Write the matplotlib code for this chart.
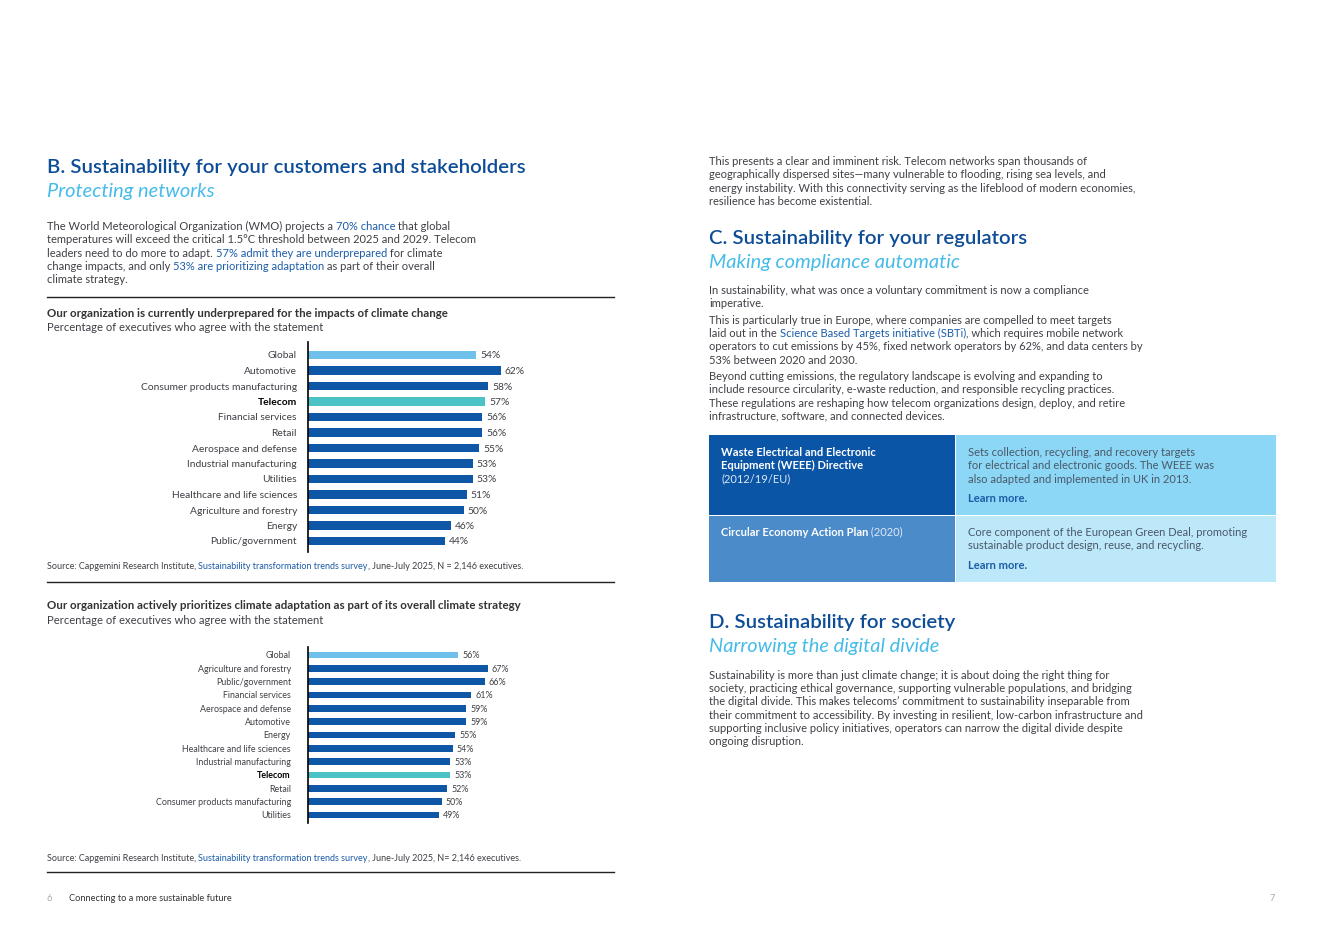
import matplotlib
matplotlib.use("Agg")
import matplotlib.pyplot as plt
from matplotlib.patches import Rectangle

W, H = 1323, 936
plt.rcParams['font.family'] = ['Lato', 'DejaVu Sans']

DARK = '#0E57A6'
LIGHT = '#6FC0EA'
TEAL = '#4BC3C6'
HEAD = '#0D4C96'
SUB = '#45BBE9'
BODY = '#3F3F46'
LINK = '#1B5CA8'
FS = 8.0  # body text size

cats1 = ['Global', 'Automotive', 'Consumer products manufacturing', 'Telecom',
         'Financial services', 'Retail', 'Aerospace and defense',
         'Industrial manufacturing', 'Utilities', 'Healthcare and life sciences',
         'Agriculture and forestry', 'Energy', 'Public/government']
vals1 = [54, 62, 58, 57, 56, 56, 55, 53, 53, 51, 50, 46, 44]

cats2 = ['Global', 'Agriculture and forestry', 'Public/government', 'Financial services',
         'Aerospace and defense', 'Automotive', 'Energy', 'Healthcare and life sciences',
         'Industrial manufacturing', 'Telecom', 'Retail',
         'Consumer products manufacturing', 'Utilities']
vals2 = [56, 67, 66, 61, 59, 59, 55, 54, 53, 53, 52, 50, 49]

fig = plt.figure(figsize=(W / 100, H / 100), dpi=100)
renderer = fig.canvas.get_renderer()


def fx(x):
    return x / W


def fy(y):
    return 1 - y / H


def txt(x, y, s, size=FS, color=BODY, **kw):
    # y is the visual middle of the line; text sits on a baseline below it
    base = y + 0.33 * size * 100 / 72
    return fig.text(fx(x), fy(base), s, fontsize=size, color=color,
                    va='baseline', ha='left', **kw)


def rich(x, y, parts, size=FS):
    for s, c in parts:
        t = txt(x, y, s, size, c)
        x = t.get_window_extent(renderer).x1


def hline(y, x0=47, x1=614):
    fig.add_artist(plt.Line2D([fx(x0), fx(x1)], [fy(y), fy(y)], color='#222222', lw=1))


def box(x0, y0, x1, y1, color):
    fig.add_artist(Rectangle((fx(x0), fy(y1)), (x1 - x0) / W, (y1 - y0) / H,
                             transform=fig.transFigure, color=color, lw=0))


def bar_chart(cats, vals, first, last, top, bottom, ppp, size, pad, bh):
    n = len(cats)
    ax = fig.add_axes([fx(308), fy(bottom), ppp * 100 / W, (bottom - top) / H])
    step = (last - first) / (n - 1)
    colors = [LIGHT if c == 'Global' else TEAL if c == 'Telecom' else DARK for c in cats]
    ax.barh(range(n), vals, height=bh, color=colors)
    for i, v in enumerate(vals):
        ax.text(v + 4 / ppp, i, f'{v}%', va='center_baseline', fontsize=size, color=BODY)
    ax.set_xlim(0, 100)
    ax.set_ylim(n - 1 + (bottom - last) / step, -(first - top) / step)
    ax.set_xticks([])
    ax.set_yticks(range(n), cats)
    ax.tick_params(axis='y', length=0, pad=pad, labelsize=size, labelcolor=BODY)
    for lab in ax.get_yticklabels():
        if lab.get_text() == 'Telecom':
            lab.set_fontweight('bold')
            lab.set_color('black')
    for s in ['top', 'right', 'bottom']:
        ax.spines[s].set_visible(False)
    ax.spines['left'].set_color('black')
    ax.spines['left'].set_linewidth(1.2)
    ax.patch.set_alpha(0)


def heading(x, y, title, sub):
    txt(x, y, title, 14.7, HEAD, fontweight='semibold')
    txt(x, y + 24, sub, 14.4, SUB, style='italic')


# left page
heading(47, 166, 'B. Sustainability for your customers and stakeholders', 'Protecting networks')
rich(47, 226, [('The World Meteorological Organization (WMO) projects a ', BODY),
               ('70% chance', LINK), (' that global', BODY)])
txt(47, 239, 'temperatures will exceed the critical 1.5°C threshold between 2025 and 2029. Telecom')
rich(47, 253, [('leaders need to do more to adapt. ', BODY),
               ('57% admit they are underprepared', LINK), (' for climate', BODY)])
rich(47, 266, [('change impacts, and only ', BODY),
               ('53% are prioritizing adaptation', LINK), (' as part of their overall', BODY)])
txt(47, 279, 'climate strategy.')
hline(297)

txt(47, 313, 'Our organization is currently underprepared for the impacts of climate change', 8.3,
    '#333333', fontweight='bold')
txt(47, 327, 'Percentage of executives who agree with the statement', 8.1)
bar_chart(cats1, vals1, 355, 541, 342, 552, 3.11, 7.4, 8, 0.58)
rich(47, 566, [('Source: Capgemini Research Institute, ', BODY),
               ('Sustainability transformation trends survey', LINK),
               (', June-July 2025, N = 2,146 executives.', BODY)], 6.45)
hline(582)

txt(47, 605, 'Our organization actively prioritizes climate adaptation as part of its overall climate strategy',
    8.3, '#333333', fontweight='bold')
txt(47, 620, 'Percentage of executives who agree with the statement', 8.1)
bar_chart(cats2, vals2, 655, 815, 647, 823, 2.68, 6.4, 12.3, 0.52)
rich(47, 858, [('Source: Capgemini Research Institute, ', BODY),
               ('Sustainability transformation trends survey', LINK),
               (', June-July 2025, N= 2,146 executives.', BODY)], 6.45)
hline(872)

txt(47, 898, '6', 6.7, '#AAAAAA')
txt(69, 898, 'Connecting to a more sustainable future', 6.7, '#333333')

# right page
X = 709
for y, s in zip([161, 174, 188, 201], [
        'This presents a clear and imminent risk. Telecom networks span thousands of',
        'geographically dispersed sites\u2014many vulnerable to flooding, rising sea levels, and',
        'energy instability. With this connectivity serving as the lifeblood of modern economies,',
        'resilience has become existential.']):
    txt(X, y, s)

heading(X, 237, 'C. Sustainability for your regulators', 'Making compliance automatic')
txt(X, 290, 'In sustainability, what was once a voluntary commitment is now a compliance')
txt(X, 303, 'imperative.')
txt(X, 320, 'This is particularly true in Europe, where companies are compelled to meet targets')
rich(X, 333, [('laid out in the ', BODY), ('Science Based Targets initiative (SBTi)', LINK),
              (', which requires mobile network', BODY)])
txt(X, 346, 'operators to cut emissions by 45%, fixed network operators by 62%, and data centers by')
txt(X, 360, '53% between 2020 and 2030.')
for y, s in zip([376, 389, 403, 416], [
        'Beyond cutting emissions, the regulatory landscape is evolving and expanding to',
        'include resource circularity, e-waste reduction, and responsible recycling practices.',
        'These regulations are reshaping how telecom organizations design, deploy, and retire',
        'infrastructure, software, and connected devices.']):
    txt(X, y, s)

# regulation table
box(709, 435, 955, 515, '#0B55A7')
box(956, 435, 1276, 515, '#8CD7F6')
box(709, 516, 955, 582, '#4B8BC9')
box(956, 516, 1276, 582, '#BDE8F9')
CELL = '#4A5868'
txt(721, 452, 'Waste Electrical and Electronic', FS, 'white', fontweight='bold')
txt(721, 465, 'Equipment (WEEE) Directive', FS, 'white', fontweight='bold')
txt(721, 479, '(2012/19/EU)', FS, '#DDE8F5')
txt(968, 452, 'Sets collection, recycling, and recovery targets', FS, CELL)
txt(968, 465, 'for electrical and electronic goods. The WEEE was', FS, CELL)
txt(968, 479, 'also adapted and implemented in UK in 2013.', FS, CELL)
txt(968, 498, 'Learn more.', FS, LINK, fontweight='bold')
t = txt(721, 532, 'Circular Economy Action Plan', FS, 'white', fontweight='bold')
txt(t.get_window_extent(renderer).x1, 532, ' (2020)', FS, '#DDE8F5')
txt(968, 532, 'Core component of the European Green Deal, promoting', FS, CELL)
txt(968, 545, 'sustainable product design, reuse, and recycling.', FS, CELL)
txt(968, 565, 'Learn more.', FS, LINK, fontweight='bold')

heading(X, 621, 'D. Sustainability for society', 'Narrowing the digital divide')
for y, s in zip([675, 688, 701, 715, 728, 741], [
        'Sustainability is more than just climate change; it is about doing the right thing for',
        'society, practicing ethical governance, supporting vulnerable populations, and bridging',
        'the digital divide. This makes telecoms\u2019 commitment to sustainability inseparable from',
        'their commitment to accessibility. By investing in resilient, low-carbon infrastructure and',
        'supporting inclusive policy initiatives, operators can narrow the digital divide despite',
        'ongoing disruption.']):
    txt(X, y, s)

txt(1270, 898, '7', 6.7, '#AAAAAA')

fig.savefig('out.png', dpi=100, facecolor='white')
